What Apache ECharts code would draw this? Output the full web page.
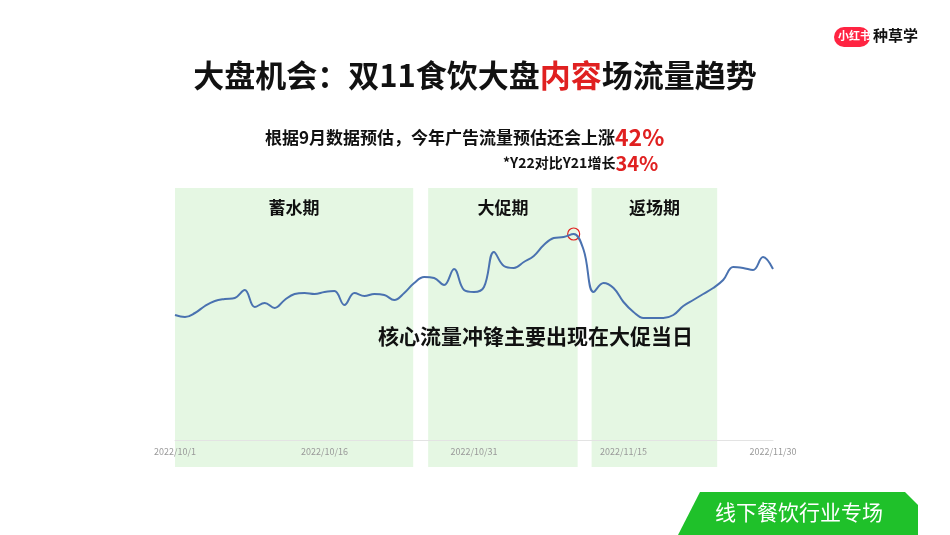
<!DOCTYPE html>
<html><head><meta charset="utf-8">
<script src="https://cdn.jsdelivr.net/npm/echarts@6/dist/echarts.min.js"></script>
<style>html,body{margin:0;padding:0;background:#fff}#c{width:950px;height:535px}</style>
</head><body><div id="c"></div>
<script>
var startDate = new Date(2022, 9, 1);
var tickDays = [0, 15, 30, 45, 60];
var traffic = [125,123,127,134,139,141,142,150,133,137,132,140,146,147,146,148,149,135,147,144,146,145,140,147,157,163,162,155,171,150,148,153,188,174,172,178,184,195,202,203,206,190,148,157,152,138,128,122,122,122,125,134,140,146,152,160,173,172,170,183,171];
var phases = [
  {name:'蓄水期', from:0, to:23.9},
  {name:'大促期', from:25.4, to:40.4},
  {name:'返场期', from:41.8, to:54.4}
];
var peakDay = 40;

function fmt(d){var t=new Date(startDate.getTime()+d*86400000);return t.getFullYear()+'/'+(t.getMonth()+1)+'/'+t.getDate();}
var F = '"Noto Sans CJK SC", sans-serif';
var chart = echarts.init(document.getElementById('c'));
chart.setOption({
  animation:false,
  grid:{left:175, right:950-773, top:188, bottom:535-467},
  xAxis:{type:'value', min:0, max:60, interval:15, z:10,
    axisLine:{onZero:true, lineStyle:{color:'#e3e3e3'}},
    axisTick:{show:false},
    splitLine:{show:false},
    axisLabel:{color:'#999', fontSize:9, fontFamily:F, margin:-20, formatter:function(v){return fmt(v);}}
  },
  yAxis:{type:'value', min:-27, max:252, show:false, splitLine:{show:false}},
  series:[{
    type:'line', smooth:0.4, symbol:'none',
    data:traffic.map(function(v,i){return [i,v];}),
    lineStyle:{color:'#4a72b0', width:2},
    z:5,
    markArea:{silent:true, itemStyle:{color:'#e5f7e3'},
      label:{show:true, position:'insideTop', distance:11, color:'#111', fontSize:17, fontWeight:'bold', fontFamily:F},
      data:phases.map(function(p){return [{name:p.name, xAxis:p.from, yAxis:252},{xAxis:p.to, yAxis:-27}];})
    },
    markPoint:{silent:true, symbol:'circle', symbolSize:12,
      itemStyle:{color:'rgba(0,0,0,0)', borderColor:'#e02020', borderWidth:1.2},
      label:{show:false},
      data:[{coord:[peakDay, traffic[peakDay]]}]
    }
  }],
  graphic:[
    {type:'text', left:'center', top:60, style:{rich:{a:{fontSize:31,fontWeight:'bold',fill:'#111',fontFamily:F},r:{fontSize:31,fontWeight:'bold',fill:'#e02020',fontFamily:F}}, text:'{a|大盘机会：双11食饮大盘}{r|内容}{a|场流量趋势}'}},
    {type:'text', x:265, y:126, style:{rich:{a:{fontSize:17,fontWeight:'bold',fill:'#111',fontFamily:F},r:{fontSize:23,fontWeight:'bold',fill:'#e02020',fontFamily:F}}, text:'{a|根据9月数据预估，今年广告流量预估还会上涨}{r|42%}'}},
    {type:'text', x:503, y:153, style:{rich:{a:{fontSize:14,fontWeight:'bold',fill:'#111',fontFamily:F},r:{fontSize:20,fontWeight:'bold',fill:'#e02020',fontFamily:F}}, text:'{a|*Y22对比Y21增长}{r|34%}'}},
    {type:'text', x:378, y:326, z:10, style:{text:'核心流量冲锋主要出现在大促当日', fontSize:21, fontWeight:'bold', fill:'#111', fontFamily:F}},
    {type:'polygon', shape:{points:[[700,492],[905,492],[918,505],[918,535],[678,535]]}, style:{fill:'#1fc12a'}},
    {type:'text', x:715, y:502, style:{text:'线下餐饮行业专场', fontSize:21, fill:'#fff', fontFamily:F}},
    {type:'rect', shape:{x:834, y:27, width:36, height:20, r:10}, style:{fill:'#ff2442'}},
    {type:'text', x:838, y:30, style:{text:'小红书', fontSize:11, fontWeight:'bold', fill:'#fff', fontFamily:F}},
    {type:'text', x:873, y:28, style:{text:'种草学', fontSize:15, fontWeight:'bold', fill:'#111', fontFamily:F}}
  ]
});
</script></body></html>
